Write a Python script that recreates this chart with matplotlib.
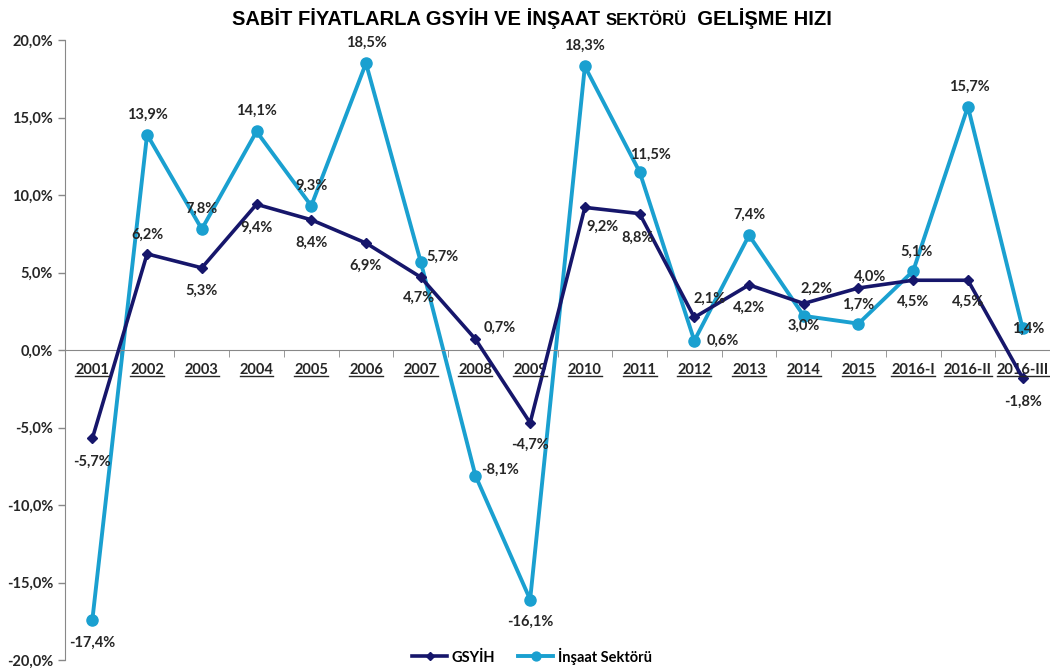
import numpy as np
import matplotlib.pyplot as plt
from matplotlib.lines import Line2D

plt.rcParams['font.family'] = ['Lato', 'DejaVu Sans']

categories = ["2001", "2002", "2003", "2004", "2005", "2006", "2007", "2008", "2009",
              "2010", "2011", "2012", "2013", "2014", "2015", "2016-I", "2016-II", "2016-III"]
gsyih = [-5.7, 6.2, 5.3, 9.4, 8.4, 6.9, 4.7, 0.7, -4.7, 9.2, 8.8, 2.1, 4.2, 3.0, 4.0, 4.5, 4.5, -1.8]
insaat = [-17.4, 13.9, 7.8, 14.1, 9.3, 18.5, 5.7, -8.1, -16.1, 18.3, 11.5, 0.6, 7.4, 2.2, 1.7, 5.1, 15.7, 1.4]

# label offsets in pixels (dx, dy)
gsyih_off = [(0, -23), (0, 19), (0, -23), (0, -23), (0, -23), (0, -23), (-2, -21), (24, 11), (0, -22),
             (18, -19), (-2, -24), (15, 19), (0, -23), (0, -22), (12, 11), (0, -22), (0, -22), (0, -24)]
insaat_off = [(0, -23), (0, 20), (0, 20), (0, 21), (0, 20), (0, 20), (22, 5), (25, 6), (0, -22),
              (0, 21), (11, 17), (29, 0), (0, 21), (13, 27), (0, 19), (3, 19), (1, 20), (6, 0)]

navy = '#16166b'
cyan = '#1aa0d0'
x = np.arange(len(categories))

fig = plt.figure(figsize=(10.5, 6.68), dpi=100)
ax = fig.add_axes([65 / 1050, 8 / 668, 985 / 1050, 620 / 668])

ax.plot(x, gsyih, color=navy, lw=2.6, marker='D', ms=5.5, zorder=3, label='GSYİH')
ax.plot(x, insaat, color=cyan, lw=2.8, marker='o', ms=8, zorder=2, label='İnşaat Sektörü')

def fmt(v):
    return f"{v:.1f}%".replace('.', ',')

for xi, v, (dx, dy) in zip(x, gsyih, gsyih_off):
    ax.annotate(fmt(v), (xi, v), xytext=(dx, dy), textcoords='offset pixels',
                ha='center', va='center', fontsize=10.5, fontweight='bold', color='#262626', zorder=5)
for xi, v, (dx, dy) in zip(x, insaat, insaat_off):
    ax.annotate(fmt(v), (xi, v), xytext=(dx, dy), textcoords='offset pixels',
                ha='center', va='center', fontsize=10.5, fontweight='bold', color='#262626', zorder=5,
                annotation_clip=False)

ax.set_xlim(-0.5, len(categories) - 0.5)
ax.set_ylim(-20, 20)
ax.set_yticks(np.arange(-20, 21, 5))
ax.set_yticklabels([fmt(v) for v in np.arange(-20, 21, 5)], fontsize=10.5, fontweight='bold', color='#262626')
ax.tick_params(axis='y', length=5, color='#888888', width=1)

ax.spines['top'].set_visible(False)
ax.spines['right'].set_visible(False)
ax.spines['bottom'].set_position(('data', 0))
ax.spines['bottom'].set_color('#888888')
ax.spines['left'].set_color('#888888')

ax.set_xticks(x)
ax.set_xticklabels([])
ax.tick_params(axis='x', which='major', length=0)
ax.set_xticks(np.arange(0.5, len(categories) - 0.5, 1), minor=True)
ax.tick_params(axis='x', which='minor', length=5, color='#888888', direction='out')

# category labels, underlined
cat_texts = []
for xi, c in zip(x, categories):
    t = ax.annotate(c, (xi, 0), xytext=(0, -20), textcoords='offset pixels', ha='center', va='center',
                    fontsize=10.5, fontweight='bold', color='#262626', zorder=1)
    cat_texts.append(t)

fig.canvas.draw()
r = fig.canvas.get_renderer()
for t in cat_texts:
    bb = t.get_window_extent(r)
    yline = bb.y0 + 1
    fig.add_artist(Line2D([bb.x0 / 1050, bb.x1 / 1050], [yline / 668, yline / 668],
                          color='#262626', lw=1, transform=fig.transFigure))

# title with smaller "SEKTÖRÜ"
parts = [("SABİT FİYATLARLA GSYİH VE İNŞAAT ", 14.5), ("SEKTÖRÜ", 12), ("  GELİŞME HIZI", 14.5)]
pieces = []
for s, size in parts:
    t = fig.text(0, 1 - 25 / 668, s, fontsize=size, fontweight='bold', family=['Liberation Sans'],
                 va='baseline', ha='left', color='black')
    pieces.append(t)
widths = [p.get_window_extent(r).width for p in pieces]
start = 532 - sum(widths) / 2
for p, w in zip(pieces, widths):
    p.set_x(start / 1050)
    start += w

fig.legend(loc='center', bbox_to_anchor=(532 / 1050, 1 - 656 / 668), ncol=2, frameon=False,
           prop={'weight': 'bold', 'size': 10.5}, handlelength=2.4, columnspacing=1.6,
           handletextpad=0.3, markerscale=0.8)

fig.savefig('out.png', dpi=100)
